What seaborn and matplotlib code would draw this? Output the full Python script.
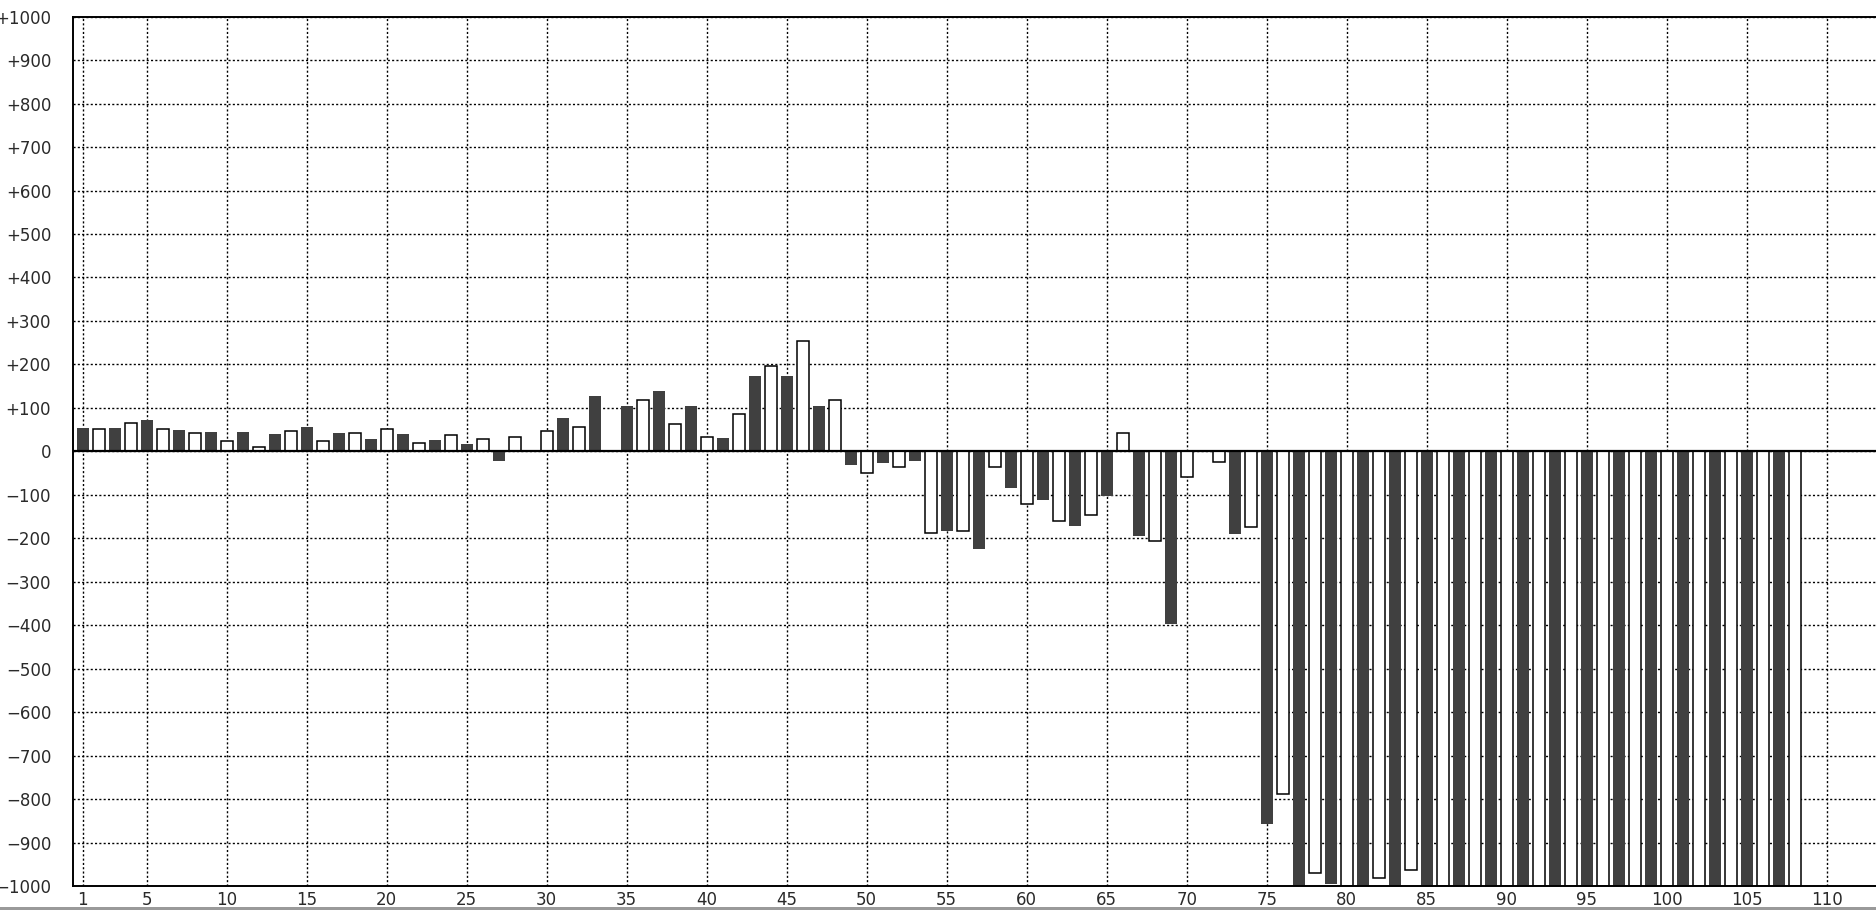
import numpy as np
import pandas as pd
import matplotlib
matplotlib.use("Agg")
import matplotlib.pyplot as plt
import seaborn as sns

# Werte je Position, ungerade = dunkel, gerade = hell
positionen = list(range(1, 109))
werte = [
    54, 52, 54, 66, 72, 52, 49, 43, 44, 24,
    44, 9, 39, 47, 57, 24, 43, 43, 29, 52,
    39, 19, 25, 38, 16, 29, -22, 33, 0, 47,
    76, 57, 127, 0, 105, 118, 138, 62, 105, 33,
    30, 86, 174, 196, 174, 255, 105, 118, -31, -49,
    -27, -35, -22, -188, -184, -183, -225, -35, -84, -120,
    -112, -160, -171, -147, -103, 42, -194, -206, -398, -59,
    0, -25, -190, -175, -858, -788, -1000, -971, -996, -1000,
    -1000, -981, -1000, -963, -1000, -1000, -1000, -1000, -1000, -1000,
    -1000, -1000, -1000, -1000, -1000, -1000, -1000, -1000, -1000, -1000,
    -1000, -1000, -1000, -1000, -1000, -1000, -1000, -1000,
]
y_ticks = list(range(-1000, 1001, 100))
y_labels = ['0' if v == 0 else f'{v:+d}'.replace('-', '\u2212') for v in y_ticks]
x_ticks = [1] + list(range(5, 111, 5))

sns.set_style("white")
plt.rcParams['font.family'] = ['DejaVu Sans']

df = pd.DataFrame({'pos': positionen, 'wert': werte})
df['art'] = np.where(df['pos'] % 2 == 1, 'dunkel', 'hell')

fig = plt.figure(figsize=(18.76, 9.10), dpi=100)
ax = fig.add_axes([72.7 / 1876, 1 - 886 / 910, 1 - 72.7 / 1876, (886 - 16.7) / 910])

sns.barplot(data=df, x='pos', y='wert', hue='art', hue_order=['dunkel', 'hell'],
            palette={'dunkel': '#404040', 'hell': 'white'}, native_scale=True,
            dodge=False, width=0.75, saturation=1, errorbar=None, legend=False,
            linewidth=0, ax=ax)

# helle Balken mit schwarzem Rand
for bar in ax.containers[1]:
    bar.set_edgecolor('black')
    bar.set_linewidth(1.1)

ax.set_axisbelow(True)
ax.grid(True, color='black', linestyle=(0, (1.5, 1.6)), linewidth=1.0)
ax.axhline(0, color='black', linewidth=1.6, zorder=4)

ax.set_xlim(0.375, 113.08)
ax.set_ylim(-1000, 1000)
ax.set_xticks(x_ticks)
ax.set_xticklabels([str(t) for t in x_ticks])
ax.set_yticks(y_ticks)
ax.set_yticklabels(y_labels)
ax.set_xlabel('')
ax.set_ylabel('')
ax.tick_params(axis='both', length=0, labelsize=12, labelcolor='#2a2a2a')
ax.tick_params(axis='y', pad=15.5)
ax.tick_params(axis='x', pad=3.5)

for seite in ['left', 'bottom', 'top']:
    ax.spines[seite].set_color('black')
    ax.spines[seite].set_linewidth(1.4)
ax.spines['right'].set_visible(False)

# grauer Rand unten
fig.add_artist(plt.Rectangle((0, 0), 1, 3 / 910, transform=fig.transFigure,
                             color='#9a9a9a', linewidth=0))

fig.savefig('out.png', dpi=100)
